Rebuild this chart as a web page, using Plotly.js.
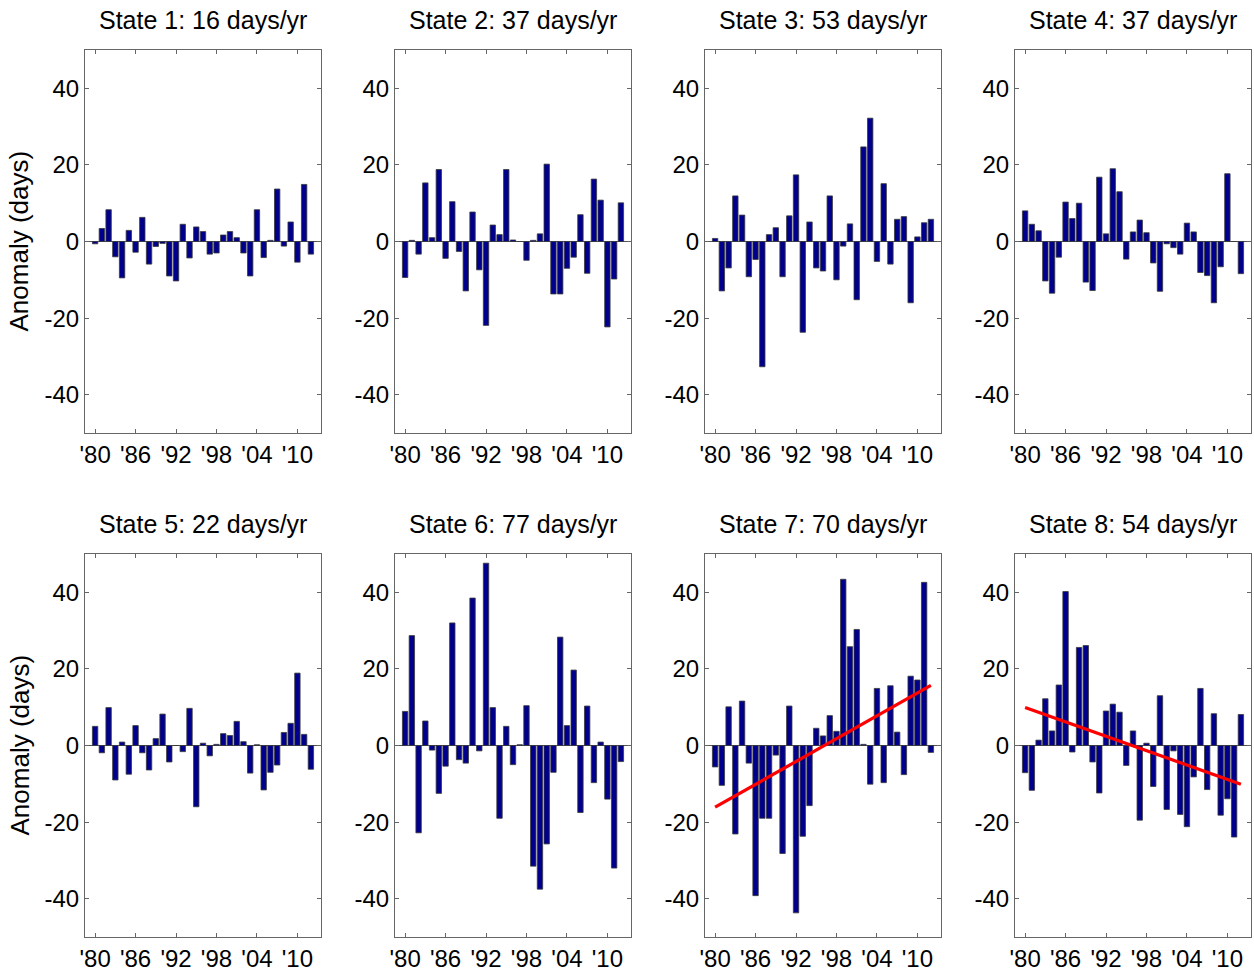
<!DOCTYPE html>
<html>
<head>
<meta charset="utf-8">
<script src="https://cdn.plot.ly/plotly-3.0.1.min.js"></script>
<style>
  html, body { margin: 0; padding: 0; background: #fff; }
  #chart { width: 1254px; height: 971px; }
</style>
</head>
<body>
<div id="chart"></div>
<script>
// ---- Data ----
const years = [1980,1981,1982,1983,1984,1985,1986,1987,1988,1989,1990,1991,1992,1993,1994,1995,1996,1997,1998,1999,2000,2001,2002,2003,2004,2005,2006,2007,2008,2009,2010,2011,2012];

const titles = [
  "State 1: 16 days/yr", "State 2: 37 days/yr", "State 3: 53 days/yr", "State 4: 37 days/yr",
  "State 5: 22 days/yr", "State 6: 77 days/yr", "State 7: 70 days/yr", "State 8: 54 days/yr"
];

const state1 = [-0.6,3.4,8.3,-4.0,-9.5,2.9,-2.8,6.3,-5.9,-1.3,-0.5,-9.0,-10.3,4.5,-4.3,3.8,2.6,-3.3,-3.0,1.7,2.6,1.0,-3.0,-9.0,8.3,-4.2,0.3,13.7,-1.2,5.1,-5.4,14.9,-3.3];
const state2 = [-9.4,0.3,-3.3,15.3,1.0,18.8,-4.4,10.4,-2.6,-12.9,7.7,-7.4,-21.9,4.3,1.8,18.8,0.4,0,-4.9,0.3,2.0,20.2,-13.7,-13.7,-7.0,-4.1,7.0,-8.3,16.3,10.8,-22.3,-9.8,10.1];
const state3 = [0.8,-12.9,-6.9,11.9,6.9,-9.2,-4.7,-32.7,1.8,3.6,-9.2,6.7,17.4,-23.7,5.1,-6.9,-7.7,11.9,-10.0,-1.2,4.6,-15.2,24.7,32.2,-5.2,15.1,-5.9,5.8,6.5,-16.0,1.2,4.9,5.8];
const state4 = [8.0,4.5,2.8,-10.3,-13.5,-4.1,10.3,6.0,10.0,-10.6,-12.8,16.8,2.0,19.0,13.0,-4.6,2.5,5.6,2.3,-5.6,-13.0,-0.6,-1.6,-3.3,4.8,2.5,-8.1,-8.9,-16.0,-6.6,17.7,0,-8.4];
const state5 = [5.0,-1.9,9.9,-9.0,0.9,-7.5,5.2,-1.9,-6.4,1.8,8.2,-4.3,0,-1.6,9.7,-16.0,0.6,-2.7,0.3,3.1,2.6,6.3,1.0,-7.2,0.2,-11.6,-7.0,-5.1,3.4,5.8,18.9,2.9,-6.2];
const state6 = [8.9,28.7,-22.8,6.4,-1.2,-12.5,-5.4,32.0,-3.7,-4.6,38.5,-1.4,47.6,9.9,-19.0,5.0,-5.0,0.2,10.4,-31.5,-37.5,-25.7,-7.0,28.3,5.2,19.7,-17.5,10.3,-9.7,0.9,-14.0,-32.0,-4.2];
const state7 = [-5.6,-10.4,10.1,-23.1,11.6,-4.6,-39.2,-19.0,-19.0,-2.5,-28.2,10.3,-43.7,-23.7,-15.7,4.5,2.5,7.8,3.7,43.4,25.8,30.3,0.3,-10.1,14.9,-9.7,15.6,3.5,-7.6,18.1,17.1,42.6,-1.8];
const state8 = [-7.1,-11.7,1.4,12.2,3.8,15.8,40.2,-1.7,25.6,26.1,-4.3,-12.4,9.0,10.8,8.7,-5.2,3.8,-19.5,0.6,-10.7,13.0,-16.7,-1.4,-18.0,-21.2,-8.2,14.9,-11.5,8.3,-18.2,-13.9,-23.9,8.1];

// trend lines (endpoint values)
const trendYears = [1980, 2012];
const trend7 = [-16.1, 15.7];
const trend8 = [9.9, -10.1];

const tickYears = [1980, 1986, 1992, 1998, 2004, 2010];
const tickLabels = ["'80", "'86", "'92", "'98", "'04", "'10"];
const yTicks = [-40, -20, 0, 20, 40];
const yTickLabels = ["-40", "-20", "0", "20", "40"];

const series = [state1, state2, state3, state4, state5, state6, state7, state8];
const trends = {7: trend7, 8: trend8};

// ---- Layout geometry (pixels) ----
const W = 1254, H = 971;
const colLeft = [85, 395, 705, 1015];
const plotW = 236;
const rowTop = [50, 554];
const plotH = 383;

const FONT = "Liberation Sans, Arial, Helvetica, sans-serif";
const TICK_SIZE = 24;
const TITLE_SIZE = 25;
const YLABEL_SIZE = 26;

const traces = [];
const layout = {
  width: W, height: H,
  margin: {l: 0, r: 0, t: 0, b: 0},
  paper_bgcolor: "#fff",
  plot_bgcolor: "#fff",
  showlegend: false,
  font: {family: FONT, color: "#000", size: TICK_SIZE},
  annotations: []
};

for (let i = 0; i < 8; i++) {
  const n = i + 1;
  const col = i % 4, row = Math.floor(i / 4);
  const x0 = colLeft[col] / W, x1 = (colLeft[col] + plotW) / W;
  const y1 = 1 - rowTop[row] / H, y0 = 1 - (rowTop[row] + plotH) / H;
  const xa = n === 1 ? "xaxis" : "xaxis" + n;
  const ya = n === 1 ? "yaxis" : "yaxis" + n;
  const xr = n === 1 ? "x" : "x" + n;
  const yr = n === 1 ? "y" : "y" + n;

  traces.push({
    type: "bar",
    x: years,
    y: series[i],
    width: 0.8,
    xaxis: xr, yaxis: yr,
    marker: {color: "#00008c", line: {color: "#3a3a3a", width: 0.8}},
    hoverinfo: "x+y"
  });

  if (trends[n]) {
    traces.push({
      type: "scatter", mode: "lines",
      x: trendYears, y: trends[n],
      xaxis: xr, yaxis: yr,
      line: {color: "#ff0000", width: 3.2}
    });
  }

  layout[xa] = {
    domain: [x0, x1],
    anchor: yr,
    range: [1978.5, 2013.5],
    tickmode: "array",
    tickvals: tickYears,
    ticktext: tickLabels,
    ticks: "inside",
    ticklen: 4,
    tickcolor: "#666",
    showline: true,
    linecolor: "#666",
    linewidth: 1,
    mirror: "ticks",
    showgrid: false,
    zeroline: false,
    fixedrange: true,
    tickfont: {family: FONT, size: TICK_SIZE, color: "#000"}
  };
  layout[ya] = {
    domain: [y0, y1],
    anchor: xr,
    range: [-50, 50],
    tickmode: "array",
    tickvals: yTicks,
    ticktext: yTickLabels,
    ticks: "inside",
    ticklen: 4,
    tickcolor: "#666",
    showline: true,
    linecolor: "#666",
    linewidth: 1,
    mirror: "ticks",
    showgrid: false,
    zeroline: true,
    zerolinecolor: "#555",
    zerolinewidth: 1,
    fixedrange: true,
    tickfont: {family: FONT, size: TICK_SIZE, color: "#000"}
  };

  layout.annotations.push({
    xref: "paper", yref: "paper",
    x: (x0 + x1) / 2, y: 1 - (rowTop[row] - 30) / H,
    xanchor: "center", yanchor: "middle",
    text: titles[i], showarrow: false,
    font: {family: FONT, size: TITLE_SIZE, color: "#000"}
  });

  if (col === 0) {
    layout.annotations.push({
      xref: "paper", yref: "paper",
      x: 19 / W, y: (y0 + y1) / 2,
      xanchor: "center", yanchor: "middle",
      text: "Anomaly (days)", showarrow: false, textangle: -90,
      font: {family: FONT, size: YLABEL_SIZE, color: "#000"}
    });
  }
}

Plotly.newPlot("chart", traces, layout, {displayModeBar: false, staticPlot: true});
</script>
</body>
</html>
